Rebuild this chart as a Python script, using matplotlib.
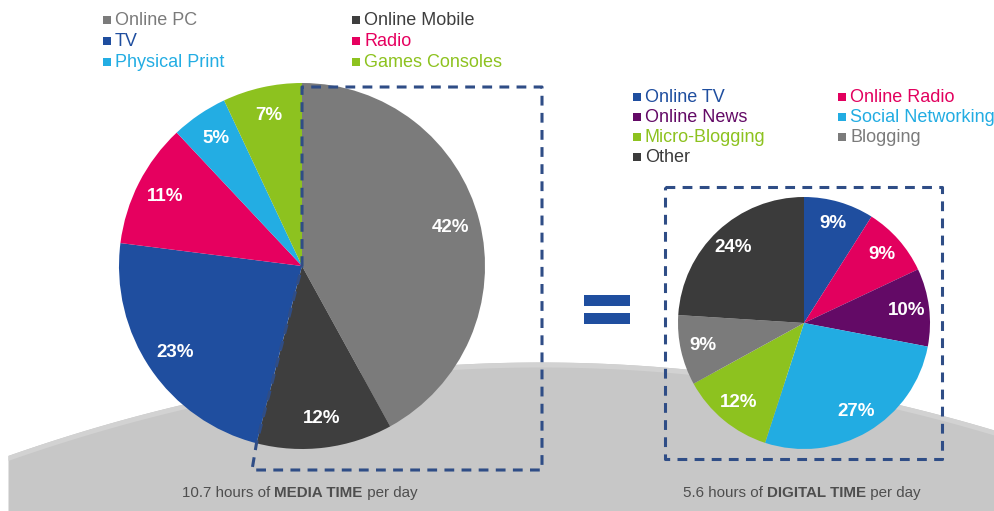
import numpy as np
import matplotlib.pyplot as plt
from matplotlib.patches import Rectangle

plt.rcParams['font.family'] = ['Liberation Sans', 'DejaVu Sans']

# Share of daily media time, clockwise from 12 o'clock
media_labels = ['Online PC', 'Online Mobile', 'TV', 'Radio', 'Physical Print', 'Games Consoles']
media_share = [42, 12, 23, 11, 5, 7]
media_colors = ['#7b7b7b', '#3e3e3e', '#1f4e9f', '#e6005f', '#23ade3', '#8dc21f']
media_hours = 10.7

# Share of daily digital time, clockwise from 12 o'clock
digital_labels = ['Online TV', 'Online Radio', 'Online News', 'Social Networking',
                  'Micro-Blogging', 'Blogging', 'Other']
digital_share = [9, 9, 10, 27, 12, 9, 24]
digital_colors = ['#1f4e9f', '#e2005e', '#630a66', '#22ace2', '#8dc21f', '#7b7b7b', '#3b3b3b']
digital_hours = 5.6

W, H = 995, 511
NAVY = '#2f4d86'

fig = plt.figure(figsize=(W / 100, H / 100), dpi=100)
ax = fig.add_axes([0, 0, 1, 1])

# grey horizon behind both pies, with a soft lighter rim
xs = np.linspace(8, W, 300)
rim = 362 + 3.3e-4 * (xs - 540) ** 2
ax.fill_between(xs, rim, H, color='#c7c7c7', lw=0, zorder=0)
ax.fill_between(xs, rim, rim + 5, color='#d2d2d2', lw=0, zorder=0)


def draw_pie(values, colors, center, radius, pctdistance):
    # y axis runs downward (pixel style), so counterclock in data reads clockwise on screen
    wedges, _, pcts = ax.pie(values, colors=colors, center=center, radius=radius,
                             startangle=-90, counterclock=True, autopct='%.0f%%',
                             pctdistance=pctdistance, wedgeprops=dict(linewidth=0),
                             textprops=dict(color='white', fontsize=13.5, fontweight='bold'))
    for w in wedges:
        w.set_zorder(2)
    for t in pcts:
        t.set_zorder(4)
    return wedges


def draw_legend(labels, colors, x0, y0, col_gap, row_gap):
    for i, (lab, col) in enumerate(zip(labels, colors)):
        x = x0 + (i % 2) * col_gap
        y = y0 + (i // 2) * row_gap
        ax.add_patch(Rectangle((x, y - 4), 8, 8, color=col, lw=0))
        ax.text(x + 12, y, lab, color=col, fontsize=13, va='center')


def draw_caption(x, y, hours, bold_part):
    kw = dict(fontsize=10.9, color='#4e4e4e')
    t1 = ax.text(x, y, f'{hours:g} hours of ', va='baseline', **kw)
    t2 = ax.annotate(bold_part, xy=(1, 0), xycoords=t1, va='bottom', fontweight='bold', **kw)
    ax.annotate(' per day', xy=(1, 0), xycoords=t2, va='bottom', **kw)


# media time pie
mc, mr = (302, 266), 183
m_wedges = draw_pie(media_share, media_colors, mc, mr, 0.84)

# digital time pie
dc, dr = (804, 323), 126
draw_pie(digital_share, digital_colors, dc, dr, 0.82)

ax.set_xlim(0, W)
ax.set_ylim(H, 0)
ax.set_aspect('equal')
ax.axis('off')

# dashed outline around the online slices of the media pie
ang = np.radians(m_wedges[1].theta2)
edge = (mc[0] + mr * np.cos(ang), mc[1] + mr * np.sin(ang))
path_x = [mc[0], mc[0], 542, 542, 252, edge[0], mc[0]]
path_y = [mc[1], 87, 87, 470, 470, edge[1], mc[1]]
ax.plot(path_x, path_y, color=NAVY, lw=2.2, ls=(0, (3.2, 2.4)), zorder=3,
        solid_capstyle='butt', dash_capstyle='butt')

# dashed frame around the digital pie
ax.plot([665, 942, 942, 665, 665], [187, 187, 459, 459, 187], color=NAVY, lw=2.2,
        ls=(0, (3.2, 2.4)), zorder=3, dash_capstyle='butt')

# equals sign between the two pies
ax.add_patch(Rectangle((584, 295), 46, 11, color='#1f4e9f', lw=0, zorder=3))
ax.add_patch(Rectangle((584, 313), 46, 11, color='#1f4e9f', lw=0, zorder=3))

draw_legend(media_labels, media_colors, 103, 20, 249, 21)
draw_legend(digital_labels, digital_colors, 633, 97, 205, 20)

draw_caption(182, 497, media_hours, 'MEDIA TIME')
draw_caption(683, 497, digital_hours, 'DIGITAL TIME')

fig.savefig('out.png', dpi=100)
